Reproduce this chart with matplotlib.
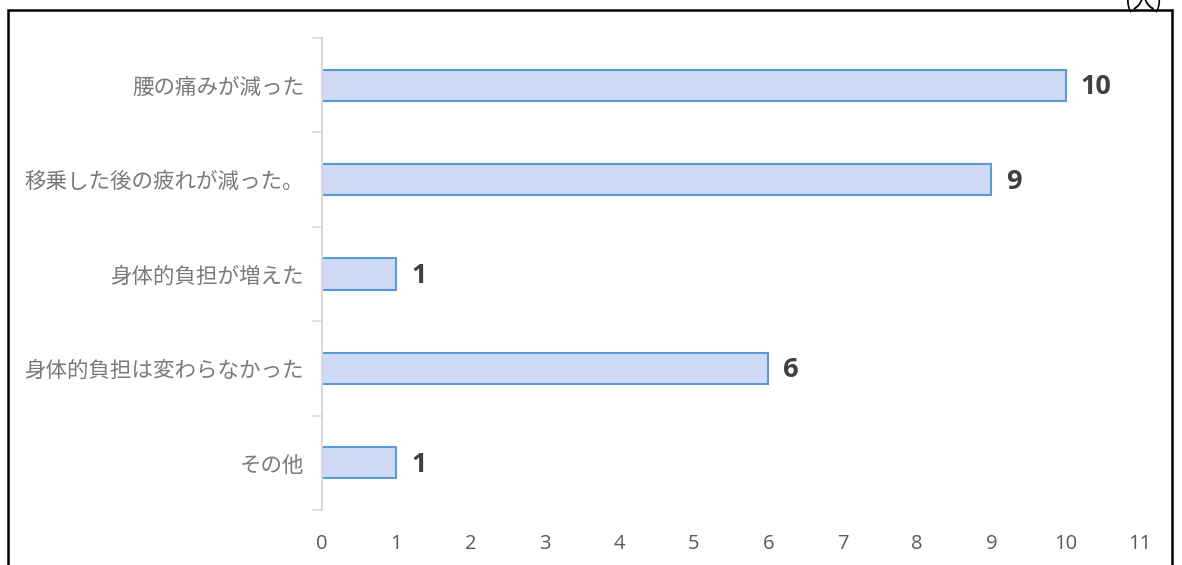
import matplotlib
matplotlib.use("Agg")
import matplotlib.pyplot as plt
from matplotlib.patches import Rectangle

plt.rcParams['font.family'] = ['Noto Sans CJK JP', 'DejaVu Sans']

# --- data ---
categories = ["腰の痛みが減った", "移乗した後の疲れが減った。", "身体的負担が増えた",
              "身体的負担は変わらなかった", "その他"]
counts = [10, 9, 1, 6, 1]
x_ticks = list(range(0, 12))
unit_label = "(人)"

num_font = ['Open Sans', 'DejaVu Sans']

fig = plt.figure(figsize=(11.82, 5.65), dpi=100)
ax = fig.add_axes([0.2724, 0.0973, 0.6921, 0.8354])

ypos = list(range(len(categories)))
ax.barh(ypos, counts, height=0.33, color='#cfdaf7', edgecolor='#5b9bd5', linewidth=1.5)

for y, v in zip(ypos, counts):
    ax.text(v + 0.2, y + 0.02, str(v), va='center', ha='left', fontsize=19.5,
            fontweight='bold', color='#404040', family=num_font)

ax.set_xlim(0, 11)
ax.set_ylim(len(categories) - 0.5, -0.5)
ax.set_xticks(x_ticks)
ax.set_xticklabels([str(t) for t in x_ticks], fontsize=14.5, color='#595959',
                   family=num_font)
ax.tick_params(axis='x', length=0, pad=17)

ax.set_yticks(ypos)
ax.set_yticklabels(categories, fontsize=15.5, color='#7a7a7a')
ax.tick_params(axis='y', which='major', length=0, pad=13)
ax.set_yticks([i - 0.5 for i in range(len(categories) + 1)], minor=True)
ax.tick_params(axis='y', which='minor', length=7, color='#d9d9d9', width=1.2)

for s in ['top', 'right', 'bottom']:
    ax.spines[s].set_visible(False)
ax.spines['left'].set_color('#d9d9d9')
ax.spines['left'].set_linewidth(1.5)

# outer frame
fig.patches.append(Rectangle((8 / 1182, -0.05), 1164 / 1182, 1.05 - 10 / 565,
                             transform=fig.transFigure, fill=False,
                             edgecolor='black', linewidth=1.8))
fig.text(1144 / 1182, 1 - 1 / 565, unit_label, ha='center', va='center',
         fontsize=16, color='black')

fig.savefig("out.png", dpi=100)
